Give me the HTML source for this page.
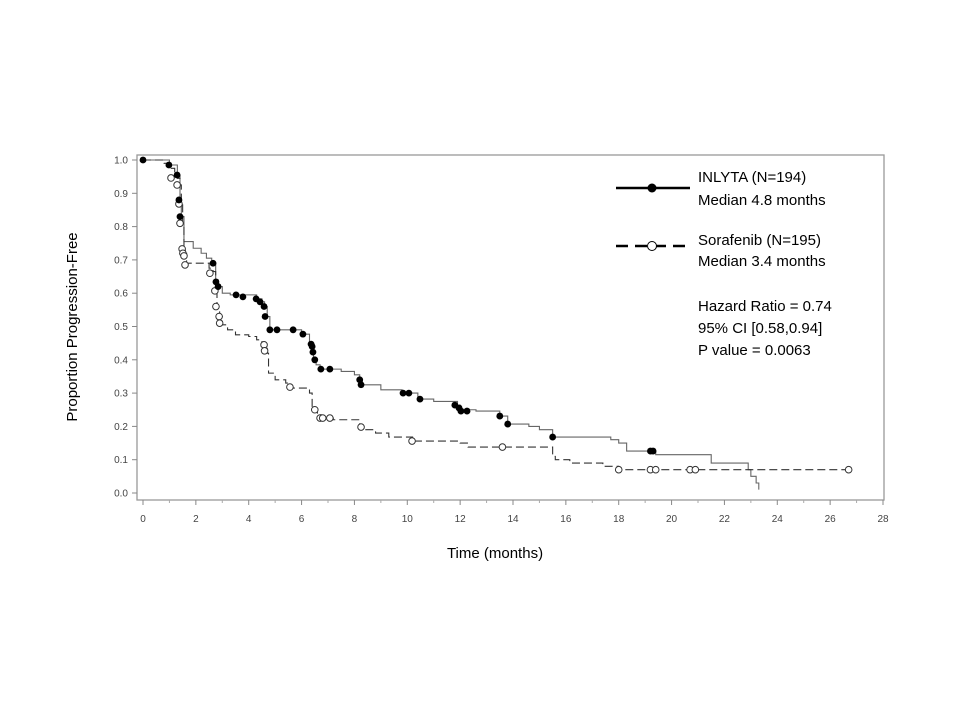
<!DOCTYPE html>
<html><head><meta charset="utf-8"><style>
body{margin:0;background:#fff;}
svg text{font-family:"Liberation Sans",sans-serif;}
</style></head><body>
<svg id="chart" width="960" height="720" xmlns="http://www.w3.org/2000/svg">
<rect x="0" y="0" width="960" height="720" fill="#fff"/>
<rect x="137" y="155" width="747" height="345" fill="none" stroke="#999" stroke-width="1.3"/>
<g id="axes"></g>
<g id="series"></g>
<text transform="translate(77,327) rotate(-90)" text-anchor="middle" font-size="15">Proportion Progression-Free</text>
<text x="495" y="558" text-anchor="middle" font-size="15">Time (months)</text>
<g>
<line x1="616" y1="188" x2="690" y2="188" stroke="#000" stroke-width="2.5"/>
<circle cx="652" cy="188" r="4.5" fill="#000"/>
<text x="698" y="182" font-size="15">INLYTA (N=194)</text>
<text x="698" y="205" font-size="15">Median 4.8 months</text>
<line x1="616" y1="246" x2="690" y2="246" stroke="#000" stroke-width="2.5" stroke-dasharray="12,7"/>
<circle cx="652" cy="246" r="4.5" fill="#fff" stroke="#000"/>
<text x="698" y="245" font-size="15">Sorafenib (N=195)</text>
<text x="698" y="266" font-size="15">Median 3.4 months</text>
<text x="698" y="311" font-size="15">Hazard Ratio = 0.74</text>
<text x="698" y="333" font-size="15">95% CI [0.58,0.94]</text>
<text x="698" y="355" font-size="15">P value = 0.0063</text>
</g>
</svg>
<script>
const xTicks=[0,2,4,6,8,10,12,14,16,18,20,22,24,26,28];
const yTicks=[0,0.1,0.2,0.3,0.4,0.5,0.6,0.7,0.8,0.9,1.0];
const inlytaTimes=[0,1.0,1.3,1.4,1.45,1.55,1.9,2.2,2.4,2.6,2.75,2.85,3.0,3.3,4.3,4.5,4.6,4.7,4.8,6.0,6.3,6.4,6.45,6.55,6.7,7.5,8.0,8.2,8.3,9.0,9.8,10.4,11.0,11.9,12.0,12.6,13.5,13.8,14.6,15.0,15.5,17.7,18.0,18.3,19.4,21.5,22.9,23.0,23.2,23.3];
const inlytaSurv=[1.0,0.985,0.955,0.88,0.83,0.755,0.735,0.72,0.705,0.69,0.64,0.62,0.6,0.595,0.583,0.574,0.56,0.53,0.49,0.477,0.447,0.423,0.4,0.385,0.372,0.365,0.355,0.34,0.325,0.31,0.3,0.282,0.275,0.264,0.25,0.246,0.231,0.207,0.2,0.19,0.168,0.16,0.15,0.126,0.115,0.09,0.07,0.05,0.03,0.01];
const inlytaCensT=[0,0.98,1.29,1.36,1.4,2.65,2.76,2.84,3.52,3.78,4.28,4.43,4.58,4.62,4.8,5.07,5.68,6.05,6.36,6.4,6.43,6.5,6.73,7.07,8.2,8.25,9.84,10.06,10.48,11.8,11.96,12.03,12.26,13.5,13.8,15.5,19.2,19.3];
const inlytaCensS=[1.0,0.985,0.955,0.88,0.83,0.69,0.634,0.62,0.595,0.589,0.583,0.574,0.56,0.53,0.49,0.49,0.49,0.477,0.447,0.44,0.423,0.4,0.372,0.372,0.34,0.325,0.3,0.3,0.282,0.264,0.255,0.246,0.246,0.231,0.207,0.168,0.126,0.126];
const soraTimes=[0,0.8,1.0,1.2,1.3,1.4,1.45,1.5,1.55,1.6,1.65,2.5,2.65,2.75,2.8,2.85,2.9,3.0,3.2,3.5,4.0,4.3,4.5,4.7,4.75,5.0,5.4,5.6,6.3,6.4,6.6,6.75,7.2,8.2,8.4,8.8,9.3,10.2,12.0,12.3,15.5,15.6,16.15,17.4,18.0];
const soraSurv=[1.0,0.99,0.975,0.96,0.945,0.925,0.87,0.81,0.74,0.72,0.69,0.675,0.665,0.61,0.56,0.55,0.53,0.505,0.49,0.475,0.47,0.46,0.44,0.42,0.36,0.34,0.33,0.315,0.3,0.25,0.235,0.225,0.22,0.2,0.19,0.18,0.168,0.156,0.15,0.138,0.11,0.1,0.09,0.08,0.07];
const soraEnd=26.7;
const soraCensT=[1.06,1.29,1.36,1.4,1.48,1.51,1.55,1.59,2.53,2.72,2.76,2.88,2.9,4.58,4.6,5.56,6.5,6.7,6.8,7.07,8.25,10.18,13.6,18.0,19.2,19.4,20.7,20.9,26.7];
const soraCensS=[0.946,0.925,0.868,0.81,0.733,0.72,0.712,0.685,0.66,0.607,0.56,0.53,0.51,0.445,0.427,0.318,0.25,0.225,0.225,0.225,0.198,0.156,0.138,0.07,0.07,0.07,0.07,0.07,0.07];

const NS='http://www.w3.org/2000/svg';
const X=t=>143+t*(883-143)/28;
const Y=s=>493-s*333;
function mk(tag,attrs,parent){const e=document.createElementNS(NS,tag);for(const k in attrs)e.setAttribute(k,attrs[k]);parent.appendChild(e);return e;}
const axes=document.getElementById('axes');
const series=document.getElementById('series');
xTicks.forEach(t=>{
  const l=mk('line',{x1:X(t),x2:X(t),y1:500,y2:505,stroke:'#888'},axes);
  
  
  const tx=mk('text',{x:X(t),y:522,'text-anchor':'middle','font-size':10,fill:'#444'},axes);
  tx.textContent=t;
  
  
});
for(let t=1;t<28;t+=2){const l=mk('line',{x1:X(t),x2:X(t),y1:500,y2:503,stroke:'#aaa'},axes);
  
  }
yTicks.forEach(s=>{
  const l=mk('line',{x1:132,x2:137,y1:Y(s),y2:Y(s),stroke:'#888'},axes);
  
  
  const tx=mk('text',{x:128,y:Y(s)+3.5,'text-anchor':'end','font-size':10,fill:'#444'},axes);
  tx.textContent=s.toFixed(1);
  
  
});
function stepPath(ts,ss,end){let d='M'+X(ts[0])+','+Y(ss[0]);for(let i=1;i<ts.length;i++){d+=' H'+X(ts[i])+' V'+Y(ss[i]);}if(end!==undefined)d+=' H'+X(end);return d;}
const p1=mk('path',{d:stepPath(inlytaTimes,inlytaSurv),fill:'none',stroke:'#666','stroke-width':1.1},series);


const p2=mk('path',{d:stepPath(soraTimes,soraSurv,soraEnd),fill:'none',stroke:'#333','stroke-width':1.1,'stroke-dasharray':'8,4'},series);


soraCensT.forEach((t,i)=>{const c=mk('circle',{cx:X(t),cy:Y(soraCensS[i]),r:3.3,fill:'#fff',stroke:'#333','stroke-width':1},series);
  
  });
inlytaCensT.forEach((t,i)=>{const c=mk('circle',{cx:X(t),cy:Y(inlytaCensS[i]),r:3.4,fill:'#000'},series);
  
  });
</script>
</body></html>
